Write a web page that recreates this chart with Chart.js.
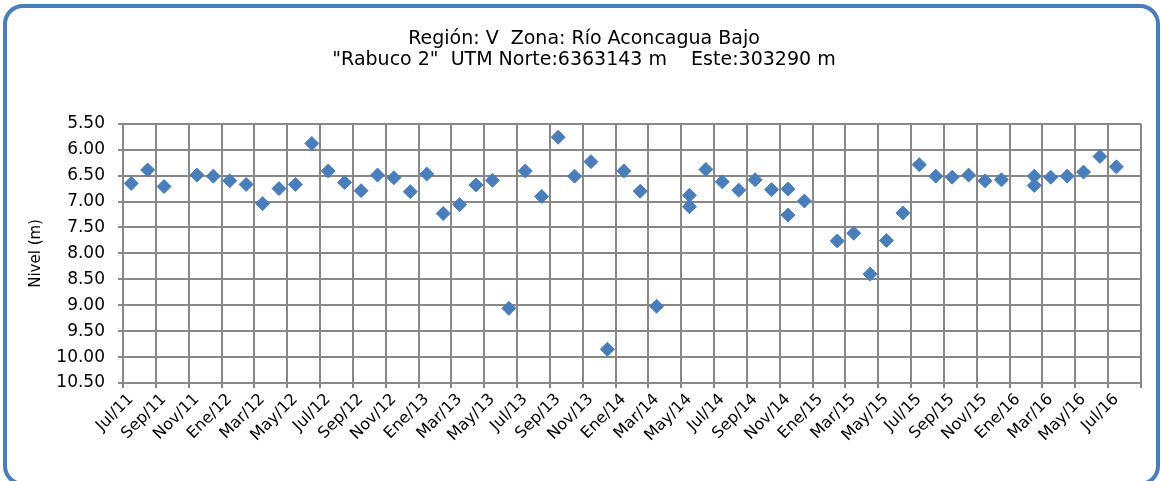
<!DOCTYPE html>
<html>
<head>
<meta charset="utf-8">
<script src="https://cdn.jsdelivr.net/npm/chart.js@4.4.0/dist/chart.umd.min.js"></script>
<style>
  html, body { margin: 0; padding: 0; background: #fff; overflow: hidden; }
  #marco {
    position: absolute; left: 3px; top: 4px;
    width: 1149px; height: 474px;
    border: 4px solid #4a7ebb; border-radius: 20px;
  }
  #wrap { position: absolute; left: 0; top: 0; width: 1161px; height: 481px; }
</style>
</head>
<body>
<div id="marco"></div>
<div id="wrap"><canvas id="grafico" width="1161" height="481"></canvas></div>
<script>
// Datos del pozo "Rabuco 2"
const titulo = ['Región: V  Zona: Río Aconcagua Bajo', '"Rabuco 2"  UTM Norte:6363143 m    Este:303290 m'];

const tickLabels = ['Jul/11','Sep/11','Nov/11','Ene/12','Mar/12','May/12','Jul/12','Sep/12','Nov/12','Ene/13',
  'Mar/13','May/13','Jul/13','Sep/13','Nov/13','Ene/14','Mar/14','May/14','Jul/14','Sep/14','Nov/14',
  'Ene/15','Mar/15','May/15','Jul/15','Sep/15','Nov/15','Ene/16','Mar/16','May/16','Jul/16'];

const fechas = ['2011-07','2011-08','2011-09','2011-11','2011-12','2012-01','2012-02','2012-03','2012-04','2012-05',
  '2012-06','2012-07','2012-08','2012-09','2012-10','2012-11','2012-12','2013-01','2013-02','2013-03',
  '2013-04','2013-05','2013-06','2013-07','2013-08','2013-09','2013-10','2013-11','2013-12','2014-01',
  '2014-02','2014-03','2014-05','2014-05','2014-06','2014-07','2014-08','2014-09','2014-10','2014-11',
  '2014-11','2014-12','2015-02','2015-03','2015-04','2015-05','2015-06','2015-07','2015-08','2015-09',
  '2015-10','2015-11','2015-12','2016-02','2016-02','2016-03','2016-04','2016-05','2016-06','2016-07'];

const niveles = [6.65, 6.39, 6.71, 6.49, 6.51, 6.60, 6.67, 7.04, 6.75, 6.67,
  5.88, 6.41, 6.63, 6.79, 6.49, 6.54, 6.81, 6.47, 7.23, 7.06,
  6.68, 6.59, 9.06, 6.41, 6.90, 5.76, 6.51, 6.23, 9.85, 6.41,
  6.80, 9.02, 6.88, 7.10, 6.38, 6.62, 6.78, 6.58, 6.77, 6.76,
  7.26, 6.99, 7.76, 7.61, 8.40, 7.75, 7.22, 6.29, 6.51, 6.53,
  6.49, 6.60, 6.58, 6.51, 6.69, 6.53, 6.51, 6.43, 6.13, 6.33];

const yTicks = [5.5, 6, 6.5, 7, 7.5, 8, 8.5, 9, 9.5, 10, 10.5];

// eje de fechas en meses desde Jul/11, cada punto al centro de su mes
const mesesEje = 62;
function mesDesdeInicio(f) {
  const [a, m] = f.split('-').map(Number);
  return (a - 2011) * 12 + (m - 7);
}
const puntos = fechas.map((f, i) => ({ x: mesDesdeInicio(f) + 0.5, y: niveles[i] }));
const xTickVals = [];
for (let v = 0; v <= mesesEje; v += 2) xTickVals.push(v);

Chart.defaults.font.family = "'DejaVu Sans', Verdana, sans-serif";
Chart.defaults.color = '#000';

const gris = '#888888';

new Chart(document.getElementById('grafico'), {
  type: 'scatter',
  data: {
    datasets: [{
      label: 'Nivel',
      data: puntos,
      pointStyle: 'rectRot',
      pointRadius: 7,
      pointBorderWidth: 1,
      backgroundColor: '#4a7ebb',
      borderColor: '#4a7ebb'
    }]
  },
  options: {
    responsive: false,
    animation: false,
    layout: { padding: { left: 27, right: 20, top: 29, bottom: 0 } },
    plugins: {
      legend: { display: false },
      tooltip: { enabled: false },
      title: {
        display: true,
        text: titulo,
        color: '#000',
        font: { size: 19, weight: 'normal', lineHeight: 1.1 },
        padding: { top: 0, bottom: 53 }
      }
    },
    scales: {
      x: {
        type: 'linear',
        min: 0,
        max: mesesEje,
        afterBuildTicks: function (scale) {
          scale.ticks = xTickVals.map(v => ({ value: v }));
        },
        afterFit: function (scale) { scale.height = 98; },
        ticks: {
          autoSkip: false,
          minRotation: 45,
          maxRotation: 45,
          padding: 2,
          labelOffset: 8,
          font: { size: 16 },
          callback: function (value, index) { return tickLabels[index] || ''; }
        },
        grid: { color: gris, lineWidth: 2, tickLength: 5 },
        border: { color: gris, width: 2 }
      },
      y: {
        reverse: true,
        min: 5.5,
        max: 10.5,
        afterBuildTicks: function (scale) {
          scale.ticks = yTicks.map(v => ({ value: v }));
        },
        afterFit: function (scale) { scale.width = 96; },
        ticks: {
          padding: 13,
          font: { size: 17 },
          callback: function (value) { return value.toFixed(2); }
        },
        title: {
          display: true,
          text: 'Nivel (m)',
          font: { size: 15 },
          padding: 0
        },
        grid: { color: gris, lineWidth: 2, tickLength: 5 },
        border: { color: gris, width: 2 }
      }
    }
  }
});
</script>
</body>
</html>
